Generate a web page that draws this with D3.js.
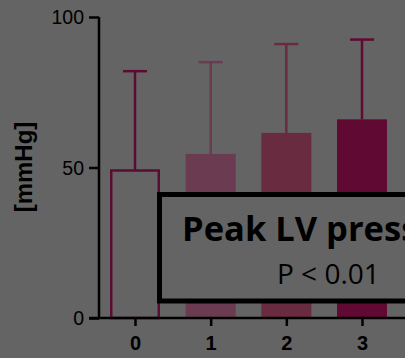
<!DOCTYPE html>
<html>
<head>
<meta charset="utf-8">
<script src="https://cdn.jsdelivr.net/npm/d3@7"></script>
<style>
  html, body { margin: 0; padding: 0; background: #646464; }
  svg { display: block; }
</style>
</head>
<body>
<script>
// Peak LV pressure by group: mean bars with upper SD whiskers
const categories = ["0", "1", "2", "3"];
const means = [49, 54.5, 61.5, 66];
const sdUpper = [33, 30.5, 29.5, 26.5];
const yTicks = [0, 50, 100];
const barFills = ["none", "#6b3b52", "#682b40", "#600a33"];
const barStrokes = ["#5c0c34", "#6b3b52", "#682b40", "#600a33"];
const yLabel = "[mmHg]";
const boxTitle = "Peak LV pressure";
const boxSub = "P < 0.01";

const W = 405, H = 358;
const svg = d3.select("body").append("svg").attr("width", W).attr("height", H);

const y = d3.scaleLinear().domain([0, 100]).range([318, 17]);
const x = d3.scalePoint().domain(categories).range([135, 362]);
const barW = 50;

// bars
const g = svg.append("g");
categories.forEach((c, i) => {
  const cx = x(c);
  const top = y(means[i]);
  const capY = y(means[i] + sdUpper[i]);
  // whisker
  g.append("line")
    .attr("x1", cx).attr("x2", cx)
    .attr("y1", top).attr("y2", capY)
    .attr("stroke", barStrokes[i]).attr("stroke-width", 2.5);
  g.append("line")
    .attr("x1", cx - 12).attr("x2", cx + 12)
    .attr("y1", capY).attr("y2", capY)
    .attr("stroke", barStrokes[i]).attr("stroke-width", 2.5);
  if (barFills[i] === "none") {
    g.append("rect")
      .attr("x", cx - barW / 2 + 1.25).attr("y", top)
      .attr("width", barW - 2.5).attr("height", y(0) - top)
      .attr("fill", "none").attr("stroke", barStrokes[i]).attr("stroke-width", 2.5);
  } else {
    g.append("rect")
      .attr("x", cx - barW / 2).attr("y", top)
      .attr("width", barW).attr("height", y(0) - top)
      .attr("fill", barFills[i]);
  }
});

// axes
const yAxis = svg.append("g").attr("transform", "translate(99,0)")
  .call(d3.axisLeft(y).tickValues(yTicks).tickSize(10).tickPadding(5));
yAxis.select(".domain").attr("stroke", "#000").attr("stroke-width", 2.5)
  .attr("d", `M0,${y(100)}V${y(0)}`);
yAxis.selectAll(".tick line").attr("stroke", "#000").attr("stroke-width", 2.5);
yAxis.selectAll(".tick text").attr("fill", "#000")
  .style("font-family", "Liberation Sans, Arial, sans-serif").style("font-size", "19.5px")
  .attr("dy", "0.35em");

const xAxis = svg.append("g").attr("transform", `translate(0,${y(0)})`)
  .call(d3.axisBottom(x).tickSize(8).tickPadding(10));
xAxis.select(".domain").attr("stroke", "#000").attr("stroke-width", 2.5)
  .attr("d", `M89,0H${W}`);
xAxis.selectAll(".tick line").attr("stroke", "#000").attr("stroke-width", 2.5);
xAxis.selectAll(".tick text").attr("fill", "#000")
  .style("font-family", "Liberation Sans, Arial, sans-serif").style("font-size", "20px")
  .style("font-weight", "bold");

// y axis title
svg.append("text")
  .attr("transform", "translate(32,167) rotate(-90)")
  .attr("text-anchor", "middle")
  .style("font-family", "Liberation Sans, Arial, sans-serif")
  .style("font-size", "24px").style("font-weight", "bold")
  .attr("fill", "#000").text(yLabel);

// annotation box
svg.append("rect")
  .attr("x", 159.5).attr("y", 194.5).attr("width", 300).attr("height", 106.5)
  .attr("fill", "#646464").attr("stroke", "#000").attr("stroke-width", 5);
svg.append("text")
  .attr("x", 182).attr("y", 241)
  .style("font-family", "Open Sans, sans-serif").style("font-weight", "bold")
  .style("font-size", "34.5px").attr("fill", "#000").text(boxTitle);
svg.append("text")
  .attr("x", 277).attr("y", 284)
  .style("font-family", "Open Sans, sans-serif")
  .style("font-size", "28px").attr("fill", "#000").text(boxSub);
</script>
</body>
</html>
